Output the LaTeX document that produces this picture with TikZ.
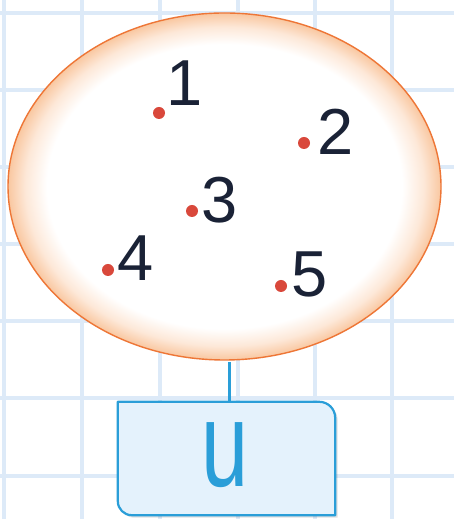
\documentclass[tikz,border=0pt]{standalone}
\usepackage{fontspec}
\setmainfont{Liberation Sans}
\usetikzlibrary{shapes.geometric}
\definecolor{gridblue}{HTML}{DDEAF8}
\definecolor{peach}{HTML}{F9C7A0}
\definecolor{peachmid}{HTML}{FDE8D8}
\definecolor{ellborder}{HTML}{EE7636}
\definecolor{dotred}{HTML}{D9483B}
\definecolor{numink}{HTML}{1A2236}
\definecolor{boxblue}{HTML}{2A9ED8}
\definecolor{boxfill}{HTML}{E4F2FC}
\pgfdeclareradialshading{ellshade}{\pgfpoint{0bp}{0bp}}{color(0bp)=(white); color(20.5bp)=(white); color(23bp)=(peachmid); color(25bp)=(peach); color(50bp)=(peach)}
\tikzset{
  gridline/.style={gridblue, line width=4pt},
  setbubble/.style={ellipse, draw=ellborder, line width=1.4pt, shading=ellshade, inner sep=0pt, minimum width=433pt, minimum height=347pt},
  dotmark/.style={circle, fill=dotred, inner sep=0pt, minimum size=12pt},
  numlabel/.style={inner sep=0pt, text=numink, font=\fontsize{65}{65}\selectfont},
  link/.style={boxblue, line width=3pt},
  labelbox/.style={inner sep=0pt, minimum width=217pt, minimum height=113pt},
  boxedge/.style={draw=boxblue, fill=boxfill, line width=2.2pt, line join=round}
}
\begin{document}
\begin{tikzpicture}[x=1pt, y=1pt]
\useasboundingbox (0,0) rectangle (454,519);
\fill[white] (0,0) rectangle (454,519);
% grid
\begin{scope}
\clip (0,0) rectangle (454,519);
\foreach \gx in {4,82,160,238,315,392,470} {\draw[gridline] (\gx,0) -- (\gx,519);}
\foreach \gy in {506,429,352,275,198,121,43} {\draw[gridline] (0,\gy) -- (454,\gy);}
\end{scope}
% nodes
\node[setbubble] (ell) at (224.5,332.5) {};
\node[labelbox] (box) at (226.5,60.5) {};
% connector
\draw[link] ([xshift=3pt]box.north) -- ([xshift=3pt,yshift=40pt]box.north);
% shadow and box outline
\fill[black, opacity=0.12] ([shift={(2.5,-2.5)}]box.north west) -- ([shift={(-16+2.5,-2.5)}]box.north east) arc[start angle=90, end angle=0, radius=16] -- ([shift={(2.5,-2.5)}]box.south east) -- ([shift={(14+2.5,-2.5)}]box.south west) arc[start angle=270, end angle=180, radius=14] -- cycle;
\draw[boxedge] (box.north west) -- ([xshift=-16pt]box.north east) arc[start angle=90, end angle=0, radius=16] -- (box.south east) -- ([xshift=14pt]box.south west) arc[start angle=270, end angle=180, radius=14] -- cycle;
\node[inner sep=0pt, text=boxblue, xscale=0.7, font=\fontsize{121}{121}\selectfont] (ulabel) at (225,64) {u};
% points
\node[dotmark] (d1) at (159,406) {};
\node[dotmark] (d2) at (304,376) {};
\node[dotmark] (d3) at (192,308) {};
\node[dotmark] (d4) at (108,249) {};
\node[dotmark] (d5) at (281,233) {};
\node[numlabel] (n1) at (185,435.5) {1};
\node[numlabel] (n2) at (336,387.5) {2};
\node[numlabel] (n3) at (220,319) {3};
\node[numlabel] (n4) at (135.5,261) {4};
\node[numlabel] (n5) at (309.5,245) {5};
\end{tikzpicture}
\end{document}
